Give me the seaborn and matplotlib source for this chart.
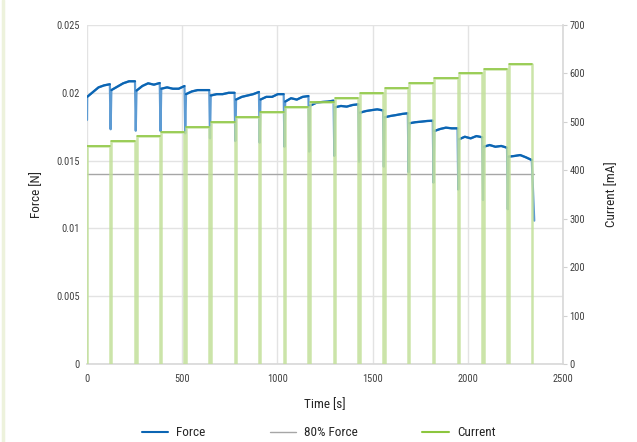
import numpy as np
import pandas as pd
import matplotlib
matplotlib.use("Agg")
import matplotlib.pyplot as plt
import seaborn as sns
from matplotlib import font_manager
from matplotlib.lines import Line2D

# ---------------- data ----------------
transition_times = [124, 256, 386, 516, 646, 779, 907, 1037, 1167, 1299,
                    1429, 1559, 1689, 1820, 1950, 2080, 2210, 2340]
current_levels = [450, 460, 470, 480, 490, 500, 510, 520, 530, 540,
                  550, 560, 570, 580, 590, 600, 610, 620]

force_initial = 0.0180
force_start = [0.01970, 0.02020, 0.02016, 0.02030, 0.01990, 0.01980, 0.01950, 0.01950, 0.01935,
               0.01905, 0.01893, 0.01853, 0.01819, 0.01775, 0.01718, 0.01657, 0.01602, 0.01529]
force_q1 = [0.02005, 0.02045, 0.02050, 0.02040, 0.02010, 0.01990, 0.01970, 0.01970, 0.01960,
            0.01925, 0.01903, 0.01865, 0.01829, 0.01783, 0.01733, 0.01676, 0.01615, 0.01534]
force_mid = [0.02040, 0.02070, 0.02070, 0.02030, 0.02020, 0.01990, 0.01980, 0.01970, 0.01950,
             0.01932, 0.01898, 0.01872, 0.01836, 0.01787, 0.01743, 0.01664, 0.01602, 0.01541]
force_q3 = [0.02055, 0.02085, 0.02060, 0.02030, 0.02020, 0.02000, 0.01990, 0.01990, 0.01970,
            0.01935, 0.01910, 0.01878, 0.01844, 0.01792, 0.01738, 0.01681, 0.01608, 0.01524]
force_end = [0.02063, 0.02085, 0.02072, 0.02050, 0.02020, 0.02000, 0.02006, 0.01990, 0.01976,
             0.01942, 0.01915, 0.01870, 0.01849, 0.01794, 0.01738, 0.01672, 0.01595, 0.01504]
force_dips = [0.01731, 0.01720, 0.01718, 0.01701, 0.01664, 0.01644, 0.01632, 0.01602, 0.01566,
              0.01534, 0.01492, 0.01455, 0.01413, 0.01337, 0.01286, 0.01209, 0.01141]
force_final_time = 2349
force_final = 0.01057

threshold_force = 0.014          # 80% force
threshold_end_time = 2349

x_ticks = [0, 500, 1000, 1500, 2000, 2500]
left_ticks = [0, 0.005, 0.01, 0.015, 0.02, 0.025]
left_tick_labels = ["0", "0.005", "0.01", "0.015", "0.02", "0.025"]
right_ticks = [0, 100, 200, 300, 400, 500, 600, 700]

# ---------------- build series ----------------
gap = 4
on_times = [0] + [t + gap for t in transition_times[:-1]]
off_times = [t - gap for t in transition_times]

cur_t, cur_v = [], []
for on, off, lvl in zip(on_times, off_times, current_levels):
    cur_t += [on, on, off, off]
    cur_v += [0, lvl, lvl, 0]
current_df = pd.DataFrame({"time": cur_t, "current": cur_v})
tops_df = pd.DataFrame({"time": [v for a, b in zip(on_times, off_times) for v in (a, b)],
                        "current": [l for l in current_levels for _ in (0, 1)],
                        "cycle": [i for i in range(len(current_levels)) for _ in (0, 1)]})

f_t, f_v = [0], [force_initial]
p_t, p_v, p_c = [], [], []
for i, (on, off) in enumerate(zip(on_times, off_times)):
    s = on if i > 0 else 1
    vals = [force_start[i], force_q1[i], force_mid[i], force_q3[i], force_end[i]]
    for f, v in zip([0, 0.25, 0.5, 0.75, 1.0], vals):
        t = s + f * (off - s)
        f_t.append(t)
        f_v.append(v)
        p_t.append(t)
        p_v.append(v)
        p_c.append(i)
    if i < len(force_dips):
        f_t.append(transition_times[i])
        f_v.append(force_dips[i])
f_t.append(force_final_time)
f_v.append(force_final)
force_df = pd.DataFrame({"time": f_t, "force": f_v})
plateau_df = pd.DataFrame({"time": p_t, "force": p_v, "cycle": p_c})

thr_df = pd.DataFrame({"time": [0, threshold_end_time],
                       "force": [threshold_force, threshold_force]})

# ---------------- style ----------------
sns.set_theme(style="white")
names = {f.name for f in font_manager.fontManager.ttflist}
family = "Liberation Sans"
for cand in ["Liberation Sans Narrow", "Roboto Condensed", "Open Sans Condensed",
             "DejaVu Sans Condensed", "Liberation Sans", "Arial"]:
    if cand in names:
        family = cand
        break
plt.rcParams["font.family"] = [family, "DejaVu Sans"]

BLUE = "#0b65b3"
BLUE_LIGHT = "#5d9bd3"
GREEN = "#8cc63e"
GREEN_LIGHT = "#c2e09a"
GRAY = "#a6a6a6"
GRID = "#e3e3e3"
TXT = "#404040"

fig = plt.figure(figsize=(6.37, 4.42), dpi=100)
ax1 = fig.add_axes([87 / 637, 1 - 364 / 442, (563 - 87) / 637, (364 - 25) / 442])
ax2 = ax1.twinx()

sns.lineplot(data=thr_df, x="time", y="force", ax=ax1, color=GRAY, lw=1.0,
             sort=False, estimator=None, zorder=2)
sns.lineplot(data=force_df, x="time", y="force", ax=ax1, color=BLUE_LIGHT, lw=1.6,
             sort=False, estimator=None, zorder=3)
sns.lineplot(data=plateau_df, x="time", y="force", units="cycle", ax=ax1, color=BLUE,
             lw=1.6, sort=False, estimator=None, zorder=4)
sns.lineplot(data=current_df, x="time", y="current", ax=ax2, color=GREEN_LIGHT, lw=1.8,
             sort=False, estimator=None, alpha=0.85)
sns.lineplot(data=tops_df, x="time", y="current", units="cycle", ax=ax2, color=GREEN,
             lw=1.1, sort=False, estimator=None)

ax1.set_xlim(0, 2500)
ax1.set_ylim(0, 0.025)
ax2.set_ylim(0, 700)
ax1.set_xticks(x_ticks)
ax1.set_yticks(left_ticks)
ax1.set_yticklabels(left_tick_labels)
ax2.set_yticks(right_ticks)

ax1.grid(True, color=GRID, lw=1.0)
ax1.set_axisbelow(True)
for sp in ["top", "left", "right"]:
    ax1.spines[sp].set_visible(False)
ax1.spines["bottom"].set_color("#d9d9d9")
for sp in ["top", "left", "bottom"]:
    ax2.spines[sp].set_visible(False)
ax2.spines["right"].set_color("#d9d9d9")

ax1.tick_params(axis="y", length=0, pad=5, labelsize=7.5, labelcolor=TXT)
ax1.tick_params(axis="x", length=0, pad=7, labelsize=7.5, labelcolor=TXT)
ax2.tick_params(axis="y", length=3, width=0.8, color="#d0d0d0", direction="out",
                pad=1.5, labelsize=7.5, labelcolor=TXT)

ax1.set_xlabel("Time [s]", fontsize=9.5, color="#262626")
ax1.set_ylabel("Force [N]", fontsize=9.5, color="#262626")
ax2.set_ylabel("Current [mA]", fontsize=9.5, color="#262626")
ax1.xaxis.set_label_coords(0.5, -0.1)
ax1.yaxis.set_label_coords(-0.0924, 0.5)
ax2.yaxis.set_label_coords(1.088, 0.5)

handles = [Line2D([], [], color=BLUE, lw=1.5),
           Line2D([], [], color=GRAY, lw=1.0),
           Line2D([], [], color=GREEN, lw=1.5)]
fig.legend(handles, ["Force", "80% Force", "Current"], loc="center",
           bbox_to_anchor=(0.5, 1 - 433 / 442), ncol=3, frameon=False,
           fontsize=9.5, handlelength=2.0, handletextpad=0.6, columnspacing=4.9,
           labelcolor="#262626")

fig.add_artist(Line2D([0.004, 0.004], [0, 1], transform=fig.transFigure,
                      color="#edf2dc", lw=2.5))

fig.savefig("out.png", dpi=100)
